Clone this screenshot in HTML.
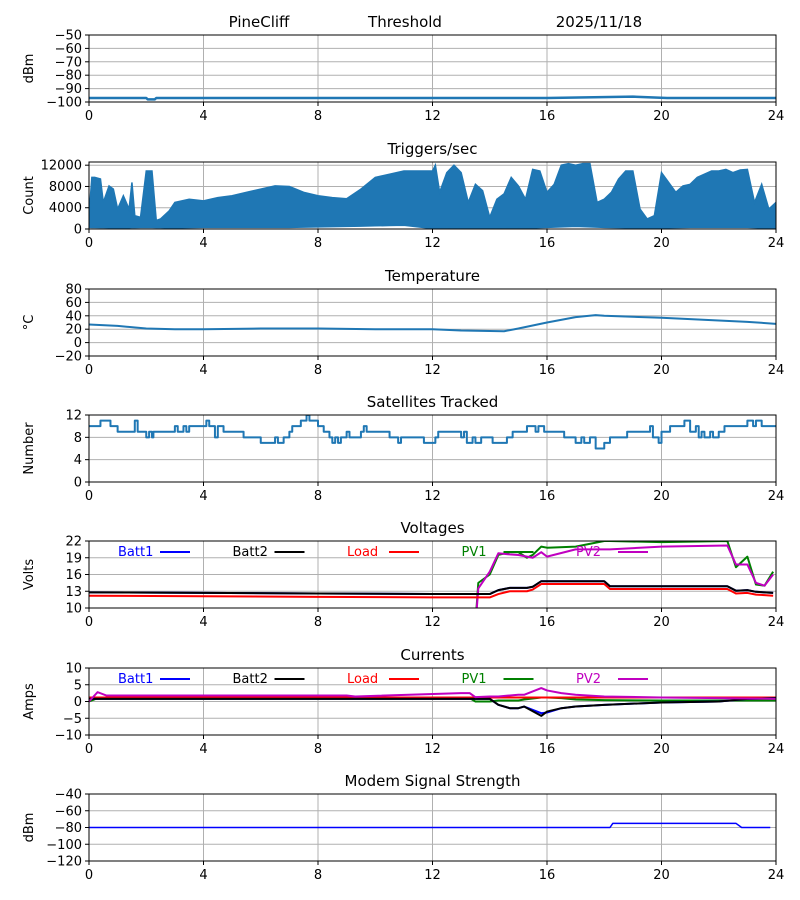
<!DOCTYPE html>
<html><head><meta charset="utf-8"><style>
body{margin:0;background:#fff}
svg{display:block;font-family:"DejaVu Sans","Liberation Sans",sans-serif}
</style></head><body>
<svg id="c" width="800" height="900" xmlns="http://www.w3.org/2000/svg">
<rect width="800" height="900" fill="#fff"/>
<text x="259" y="27" font-size="15" text-anchor="middle">PineCliff</text>
<text x="405" y="27" font-size="15" text-anchor="middle">Threshold</text>
<text x="599" y="27" font-size="15" text-anchor="middle">2025/11/18</text>
</svg>
<script>
// ---- data ----
const rssiT = [0, 2.0, 2.05, 2.3, 2.35, 16, 19, 20.2, 24];
const rssiV = [-97, -97, -98, -98, -97, -97, -96, -97, -97];

const trigT = [0,0.1,0.2,0.4,0.5,0.7,0.85,1.0,1.2,1.4,1.5,1.6,1.8,2.0,2.2,2.35,2.5,2.8,3.0,3.5,4.0,4.5,5,5.5,6,6.5,7,7.5,8,8.5,9,9.5,10,10.5,11,11.5,12.0,12.1,12.25,12.5,12.75,13,13.25,13.5,13.75,14,14.25,14.5,14.75,15,15.25,15.5,15.75,16,16.25,16.5,16.75,17,17.25,17.5,17.75,18,18.25,18.5,18.75,19,19.25,19.5,19.75,20,20.25,20.5,20.75,21,21.25,21.5,21.75,22,22.25,22.5,22.75,23,23.25,23.5,23.75,24];
const trigMax = [2500,9700,9700,9400,5000,8100,7500,3750,6250,3750,8750,2500,2200,10900,10900,1600,1900,3400,5000,5600,5300,5900,6250,6900,7500,8100,8000,6900,6250,5900,5700,7500,9700,10300,10900,10900,10900,12000,6900,10600,12000,10600,5000,8400,7200,2200,5600,6600,9700,8100,5600,11200,10900,6900,8400,12000,12300,12000,12300,12300,5000,5600,6900,9400,10900,10900,3750,1900,2500,10600,8750,6900,8100,8400,9700,10300,10900,10900,11200,10600,11100,11200,5000,8400,3750,5000];
const lowH = [0,1,2,3,4,5,6,7,8,9,10,11,12,13,14,15,16,17,18,19,20,21,22,23,24];
const trigMin = [300,200,300,200,300,300,300,300,400,500,600,700,100,0,0,100,300,500,300,200,200,300,300,300,100];

const tempT = [0,1,2,3,4,6,8,10,12,13,14.5,15,16,17,17.7,18,20,22,23,24];
const tempV = [27,25,21,20,20,21,21,20,20,18,17,21,30,38,41,40,37,33,31,28];

const satT = [0,0.4,0.75,1.0,1.6,1.7,2.0,2.1,2.2,2.25,3.0,3.1,3.3,3.4,3.5,4.1,4.2,4.4,4.5,4.7,5.4,6.0,6.5,6.6,6.8,7.0,7.1,7.4,7.6,7.7,8.0,8.2,8.4,8.5,8.6,8.7,8.8,9.0,9.1,9.4,9.5,9.6,9.7,10,10.5,10.8,10.9,11.2,11.7,12.1,12.2,13.0,13.1,13.2,13.4,13.5,13.7,14.1,14.6,14.8,15.3,15.6,15.7,15.9,16.6,17.0,17.2,17.3,17.5,17.7,18.0,18.2,18.8,19.6,19.7,19.9,20.0,20.3,20.8,21.0,21.2,21.3,21.4,21.5,21.7,21.8,22.0,22.2,23.0,23.2,23.3,23.5,24];
const satV = [10,11,10,9,11,9,8,9,8,9,10,9,10,9,10,11,10,8,10,9,8,7,8,7,8,9,10,11,12,11,10,9,8,7,8,7,8,9,8,8,9,10,9,9,8,7,8,8,7,8,9,8,9,7,8,7,8,7,8,9,10,9,10,9,8,7,8,7,8,6,7,8,9,10,8,7,9,10,11,9,10,8,9,8,9,8,9,10,11,10,11,10,10];

const vT = [0,4,8,12,13.4,13.6,14,14.3,14.7,15,15.3,15.5,15.8,16,17,18,18.2,20,22.3,22.6,23,23.3,23.6,23.9];
const batt1V = [12.8,12.7,12.6,12.5,12.5,12.5,12.5,13.2,13.6,13.6,13.6,13.8,14.8,14.8,14.8,14.8,13.9,13.9,13.9,13.1,13.2,12.9,12.8,12.7];
const batt2V = [12.8,12.7,12.6,12.5,12.5,12.5,12.5,13.2,13.6,13.6,13.6,13.8,14.8,14.8,14.8,14.8,13.9,13.9,13.9,13.1,13.2,12.9,12.8,12.7];
const loadV = [12.2,12.1,12.0,11.9,11.9,11.9,11.9,12.5,13.0,13.0,13.0,13.3,14.3,14.3,14.3,14.3,13.4,13.4,13.4,12.6,12.7,12.4,12.3,12.2];
const pv1V = [0,0,0,0,0,14.5,16,19.5,20,20,19,19.5,21,20.8,21,22,22,21.8,22,17.3,19.2,14.2,14,16.5];
const pv2V = [0,0,0,0,0,13.5,16.5,19.8,19.6,19.5,19.2,19,20,19.2,20.5,20.5,20.5,21,21.2,17.8,17.8,14.5,14,16];

const iT = [0,0.3,0.6,4,9,9.3,13,13.3,13.5,14,14.3,14.7,15,15.2,15.8,16,16.5,17,18,20,22,23,24];
const batt1I = [0.8,0.8,0.8,0.8,0.8,0.8,0.8,0.8,0.8,0.8,-1,-2,-2,-1.5,-3.5,-3.3,-2,-1.5,-1,-0.3,0,0.8,1];
const batt2I = [0.8,0.8,0.8,0.8,0.8,0.8,0.8,0.8,0.8,0.8,-1,-2,-2,-1.5,-4.3,-3,-2,-1.5,-1,-0.3,0,0.8,1];
const loadI = [1.2,1.2,1.2,1.2,1.2,1.2,1.2,1.2,1.2,1.2,1.2,1.2,1.2,1.2,1.2,1.2,1.2,1.2,1.2,1.2,1.2,1.2,1.2];
const pv1I = [0,1,1.2,1.2,1.2,1.2,1.2,1.0,0,0,0.3,0.3,0.3,0.6,1.2,1.2,1,0.6,0.4,0.3,0.3,0.3,0.3];
const pv2I = [0,2.8,1.8,1.8,1.8,1.5,2.5,2.5,1.3,1.5,1.5,1.8,2,2,4,3.3,2.5,2,1.5,1.2,1,0.9,0.8];

const modemT = [0,18.2,18.3,22.6,22.8,23.8];
const modemV = [-80,-80,-75,-75,-80,-80];

const xTicks = [0,4,8,12,16,20,24];
// ---- drawing ----
const svg = document.getElementById('c');
const NS = 'http://www.w3.org/2000/svg';
const X0 = 89, X1 = 776, H = 67;
function xs(h){ return X0 + (h/24)*(X1-X0); }
function fmt(v){ return v < 0 ? '\u2212' + Math.abs(v) : String(v); }
function mk(tag, attrs, parent){
  const e = document.createElementNS(NS, tag);
  for (const k in attrs) e.setAttribute(k, attrs[k]);
  (parent||svg).appendChild(e);
  return e;
}
function panel(key, top, min, max, ticks, title, ylab){
  const g = mk('g', {});
  
  
  const ys = v => top + (max - v)/(max - min)*H;
  for (const t of xTicks){
    const l = mk('line', {x1:xs(t),x2:xs(t),y1:top,y2:top+H,stroke:'#b0b0b0','stroke-width':1}, g);
    
    
    mk('line', {x1:xs(t),x2:xs(t),y1:top+H,y2:top+H+4,stroke:'#000'}, g);
    const tx = mk('text', {x:xs(t),y:top+H+18,'font-size':13,'text-anchor':'middle'}, g);
    tx.textContent = t;
    
    
  }
  for (const t of ticks){
    const y = ys(t);
    const l = mk('line', {x1:X0,x2:X1,y1:y,y2:y,stroke:'#b0b0b0','stroke-width':1}, g);
    
    
    mk('line', {x1:X0-4,x2:X0,y1:y,y2:y,stroke:'#000'}, g);
    const tx = mk('text', {x:X0-7,y:y+4.5,'font-size':13,'text-anchor':'end'}, g);
    tx.textContent = fmt(t);
    
    
  }
  const tt = mk('text', {x:(X0+X1)/2,y:top-8,'font-size':15,'text-anchor':'middle'}, g);
  tt.textContent = title;
  
  
  const yl = mk('text', {x:0,y:0,'font-size':13,'text-anchor':'middle',transform:`translate(33,${top+H/2}) rotate(-90)`}, g);
  yl.textContent = ylab;
  
  
  const cid = 'clip-' + key;
  const cp = mk('clipPath', {id:cid}, g);
  mk('rect', {x:X0,y:top,width:X1-X0,height:H}, cp);
  const plot = mk('g', {'clip-path':`url(#${cid})`}, g);
  const frame = mk('rect', {x:X0,y:top,width:X1-X0,height:H,fill:'none',stroke:'#000','stroke-width':1}, g);
  
  
  return {plot, ys, g};
}
function line(p, ts, vs, color, w, name, step){
  let d = '';
  for (let i=0;i<ts.length;i++){
    const x = xs(ts[i]), y = p.ys(vs[i]);
    if (i===0) d += `M${x},${y}`;
    else if (step) d += `H${x}V${y}`;
    else d += `L${x},${y}`;
  }
  if (step) d += `H${xs(24)}`;
  const e = mk('path', {d, fill:'none', stroke:color, 'stroke-width':w, 'stroke-linejoin':'round'}, p.plot);
  
  
}
function legend(p, top){
  const items = [['Batt1','#0000ff'],['Batt2','#000000'],['Load','#ff0000'],['PV1','#008000'],['PV2','#c000c0']];
  items.forEach((it,i)=>{
    const bx = 118 + i*114.5;
    const t = mk('text', {x:bx,y:top+15,'font-size':13,fill:it[1]}, p.g);
    t.textContent = it[0];
    
    
    mk('line', {x1:bx+42,x2:bx+72,y1:top+11,y2:top+11,stroke:it[1],'stroke-width':2}, p.g);
  });
}
const BLUE = '#1f77b4';
// 1 RSSI
let p = panel('rssi', 35, -100, -50, [-50,-60,-70,-80,-90,-100], '', 'dBm');
line(p, rssiT, rssiV, BLUE, 2.5, 'rssi-line');
// 2 triggers
p = panel('triggers', 162, 0, 12600, [0,4000,8000,12000], 'Triggers/sec', 'Count');
{
  function lowAt(h){ const i = Math.min(Math.floor(h), 23); const f = h - i; return trigMin[i]*(1-f)+trigMin[i+1]*f; }
  let d = '';
  trigT.forEach((t,i)=>{ d += (i?'L':'M') + xs(t) + ',' + p.ys(trigMax[i]); });
  for (let i=trigT.length-1;i>=0;i--) d += 'L' + xs(trigT[i]) + ',' + p.ys(lowAt(trigT[i]));
  d += 'Z';
  const e = mk('path', {d, fill:BLUE, stroke:BLUE, 'stroke-width':1.5}, p.plot);
  
  
}
// 3 temperature
p = panel('temperature', 289, -20, 80, [-20,0,20,40,60,80], 'Temperature', '°C');
line(p, tempT, tempV, BLUE, 2, 'temperature-line');
// 4 satellites
p = panel('satellites', 415, 0, 12, [0,4,8,12], 'Satellites Tracked', 'Number');
line(p, satT, satV, BLUE, 2, 'satellites-line', true);
// 5 voltages
p = panel('voltages', 541, 10, 22, [10,13,16,19,22], 'Voltages', 'Volts');
line(p, vT, pv1V, '#008000', 2, 'pv1-voltage-line');
line(p, vT, pv2V, '#c000c0', 2, 'pv2-voltage-line');
line(p, vT, loadV, '#ff0000', 2, 'load-voltage-line');
line(p, vT, batt1V, '#0000ff', 2, 'batt1-voltage-line');
line(p, vT, batt2V, '#000000', 2, 'batt2-voltage-line');
legend(p, 541);
// 6 currents
p = panel('currents', 668, -10, 10, [-10,-5,0,5,10], 'Currents', 'Amps');
line(p, iT, pv1I, '#008000', 2, 'pv1-current-line');
line(p, iT, loadI, '#ff0000', 2, 'load-current-line');
line(p, iT, batt1I, '#0000ff', 2, 'batt1-current-line');
line(p, iT, batt2I, '#000000', 2, 'batt2-current-line');
line(p, iT, pv2I, '#c000c0', 2, 'pv2-current-line');
legend(p, 668);
// 7 modem
p = panel('modem', 794, -120, -40, [-40,-60,-80,-100,-120], 'Modem Signal Strength', 'dBm');
line(p, modemT, modemV, '#0000ff', 1.5, 'modem-signal-line');
</script>
</body></html>
